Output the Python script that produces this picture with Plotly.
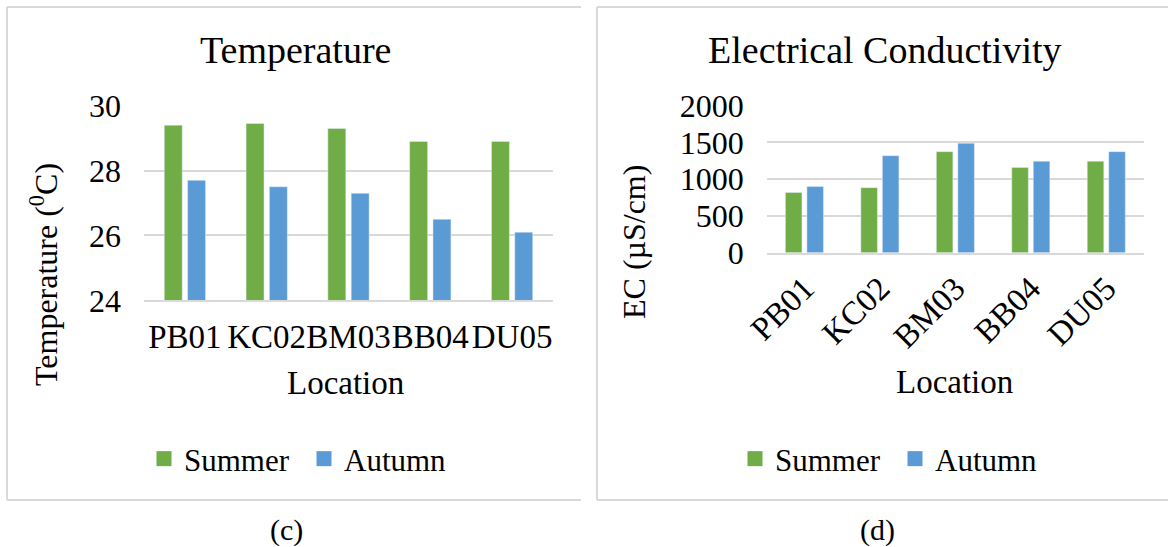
import plotly.graph_objects as go

# Sampling locations and seasonal measurements
locations = ["PB01", "KC02", "BM03", "BB04", "DU05"]
temp_summer = [29.4, 29.45, 29.3, 28.9, 28.9]
temp_autumn = [27.7, 27.5, 27.3, 26.5, 26.1]
ec_summer = [820, 885, 1375, 1160, 1245]
ec_autumn = [900, 1320, 1490, 1245, 1375]

temp_ticks = [24, 26, 28, 30]
ec_ticks = [0, 500, 1000, 1500, 2000]

W, H = 1168, 547
GREEN = "#70ad47"
BLUE = "#5b9bd5"
GRID = "#d9d9d9"
FONT = "Liberation Serif, Times New Roman, serif"


def px(x):
    return x / W


def py(y):
    return 1 - y / H


fig = go.Figure()

# Temperature panel
fig.add_trace(go.Bar(x=locations, y=temp_summer, name="Summer", marker_color=GREEN,
                     xaxis="x", yaxis="y", showlegend=False))
fig.add_trace(go.Bar(x=locations, y=temp_autumn, name="Autumn", marker_color=BLUE,
                     xaxis="x", yaxis="y", showlegend=False))
# Electrical conductivity panel
fig.add_trace(go.Bar(x=locations, y=ec_summer, name="Summer", marker_color=GREEN,
                     xaxis="x2", yaxis="y2", showlegend=False))
fig.add_trace(go.Bar(x=locations, y=ec_autumn, name="Autumn", marker_color=BLUE,
                     xaxis="x2", yaxis="y2", showlegend=False))

# Square legend keys for each panel
for lg, xa, ya in (("legend", "x", "y"), ("legend2", "x2", "y2")):
    for name, col in (("Summer", GREEN), ("Autumn", BLUE)):
        fig.add_trace(go.Scatter(x=[None], y=[None], mode="markers", name=name,
                                 marker=dict(symbol="square", size=15, color=col),
                                 xaxis=xa, yaxis=ya, legend=lg, showlegend=True))

tick_font = dict(family=FONT, size=33, color="black")
ytick_font = dict(family=FONT, size=32, color="black")
legend_common = dict(orientation="h", yanchor="middle", xanchor="left",
                     font=dict(family=FONT, size=31), bgcolor="rgba(0,0,0,0)",
                     entrywidth=115, entrywidthmode="pixels")

fig.update_layout(
    width=W, height=H,
    margin=dict(l=0, r=0, t=0, b=0, autoexpand=False),
    paper_bgcolor="white", plot_bgcolor="white",
    font=dict(family=FONT, size=31, color="black"),
    barmode="group", bargap=0.43, bargroupgap=0.23,
    xaxis=dict(domain=[px(144), px(553)], anchor="y", showgrid=False,
               showline=True, linecolor=GRID, linewidth=2,
               tickfont=tick_font, ticks="", ticklabelstandoff=6, tickangle=0),
    yaxis=dict(domain=[py(300.3), py(105.7)], anchor="x", range=[24, 30],
               tickvals=temp_ticks, showgrid=True, gridcolor=GRID, gridwidth=2,
               zeroline=False, tickfont=ytick_font, ticks="", ticklabelstandoff=22),
    xaxis2=dict(domain=[px(766.7), px(1144)], anchor="y2", showgrid=False,
                showline=True, linecolor=GRID, linewidth=2,
                tickfont=tick_font, ticks="", ticklabelstandoff=1, tickangle=-45),
    yaxis2=dict(domain=[py(252.7), py(105.7)], anchor="x2", range=[0, 2000],
                tickvals=ec_ticks, showgrid=True, gridcolor=GRID, gridwidth=2,
                zeroline=False, tickfont=ytick_font, ticks="", ticklabelstandoff=22),
    legend=dict(x=px(144), y=py(459), **legend_common),
    legend2=dict(x=px(735), y=py(459), **legend_common),
)

# Panel frames
frames = [
    (7, 7, 581, 7), (7, 7, 7, 500), (7, 500, 581, 500),
    (597, 7, 1168, 7), (597, 7, 597, 500), (597, 500, 1168, 500),
]
for x0, y0, x1, y1 in frames:
    fig.add_shape(type="line", xref="paper", yref="paper",
                  x0=px(x0), y0=py(y0), x1=px(x1), y1=py(y1),
                  line=dict(color=GRID, width=2))

# Titles and labels
texts = [
    ("Temperature", 295, 50, 38, 0),
    ("Electrical Conductivity", 885, 50, 38, 0),
    ("Location", 345, 383, 33, 0),
    ("Location", 954, 382, 33, 0),
    ("Temperature (<sup>0</sup>C)", 44, 275, 32, -90),
    ("EC (µS/cm)", 634, 242, 32, -90),
    ("(c)", 286, 530, 30, 0),
    ("(d)", 877, 530, 30, 0),
]
for t, x, y, s, ang in texts:
    fig.add_annotation(text=t, xref="paper", yref="paper", x=px(x), y=py(y),
                       xanchor="center", yanchor="middle", showarrow=False,
                       textangle=ang, font=dict(family=FONT, size=s, color="black"))

fig.write_html("out.html")
